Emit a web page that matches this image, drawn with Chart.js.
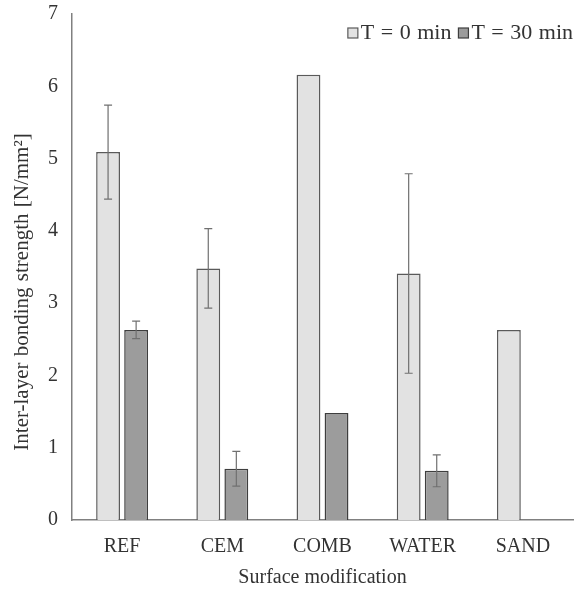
<!DOCTYPE html>
<html>
<head>
<meta charset="utf-8">
<script src="https://cdn.jsdelivr.net/npm/chart.js@4.4.0/dist/chart.umd.min.js"></script>
<style>
  html, body { margin: 0; padding: 0; background: #fff; }
  #wrap { width: 579px; height: 594px; }
</style>
</head>
<body>
<div id="wrap"><canvas id="myChart" width="579" height="594"></canvas></div>
<script>
// data
var categories = ["REF", "CEM", "COMB", "WATER", "SAND"];
var t0Values = [5.09, 3.48, 6.16, 3.41, 2.63];
var t0Errors = [0.65, 0.55, null, 1.38, null];
var t30Values = [2.63, 0.71, 1.48, 0.68, null];
var t30Errors = [0.12, 0.24, null, 0.22, null];
var yTicks = [0, 1, 2, 3, 4, 5, 6, 7];
var yTitle = "Inter-layer bonding strength [N/mm²]";

var serif = "'Liberation Serif', 'Times New Roman', serif";
var textColor = "#333333";

// error bars, drawn from the bar elements and the y scale
var errorBars = {
    id: "errorBars",
    afterDatasetsDraw: function(chart) {
        var ctx = chart.ctx;
        var y = chart.scales.y;
        chart.data.datasets.forEach(function(ds, i) {
            var meta = chart.getDatasetMeta(i);
            meta.data.forEach(function(bar, j) {
                var e = ds.errors[j];
                var v = ds.data[j];
                if (e == null || v == null) return;
                var top = y.getPixelForValue(v + e);
                var bot = y.getPixelForValue(v - e);
                ctx.save();
                ctx.strokeStyle = "#707070";
                ctx.lineWidth = 1.2;
                ctx.beginPath();
                ctx.moveTo(bar.x, top); ctx.lineTo(bar.x, bot);
                ctx.moveTo(bar.x - 4, top); ctx.lineTo(bar.x + 4, top);
                ctx.moveTo(bar.x - 4, bot); ctx.lineTo(bar.x + 4, bot);
                ctx.stroke();
                ctx.restore();
            });
        });
    }
};

// y title sits a bit below the middle of the axis in the original
var sideTitle = {
    id: "sideTitle",
    afterDraw: function(chart) {
        var ctx = chart.ctx;
        var area = chart.chartArea;
        ctx.save();
        ctx.font = "21px " + serif;
        if ("wordSpacing" in ctx) ctx.wordSpacing = "1px";
        ctx.fillStyle = textColor;
        ctx.textAlign = "center";
        ctx.textBaseline = "middle";
        ctx.translate(22, (area.top + area.bottom) / 2 + 25);
        ctx.rotate(-Math.PI / 2);
        ctx.fillText(yTitle, 0, 0);
        ctx.restore();
    }
};

// legend inside the plot, top right
var innerLegend = {
    id: "innerLegend",
    afterDraw: function(chart) {
        var ctx = chart.ctx;
        var area = chart.chartArea;
        ctx.save();
        ctx.font = "22px " + serif;
        if ("wordSpacing" in ctx) ctx.wordSpacing = "1px";
        ctx.textBaseline = "middle";
        var yMid = area.top + 19;
        var box = 10, gap = 3, itemGap = 7;
        var items = chart.data.datasets.map(function(ds) {
            return { text: ds.label, w: ctx.measureText(ds.label).width, fill: ds.backgroundColor, stroke: ds.borderColor };
        });
        var total = 0;
        items.forEach(function(it, k) { total += box + gap + it.w + (k ? itemGap : 0); });
        var x = area.right - total;
        items.forEach(function(it, k) {
            if (k) x += itemGap;
            ctx.fillStyle = it.fill;
            ctx.fillRect(x, yMid - box / 2, box, box);
            ctx.strokeStyle = it.stroke;
            ctx.lineWidth = 1.2;
            ctx.strokeRect(x, yMid - box / 2, box, box);
            x += box + gap;
            ctx.fillStyle = textColor;
            ctx.fillText(it.text, x, yMid);
            x += it.w;
        });
        ctx.restore();
    }
};

var myChartRef = document.getElementById("myChart").getContext("2d");
new Chart(myChartRef, {
    type: "bar",
    data: {
        labels: categories,
        datasets: [
            {
                label: "T = 0 min",
                data: t0Values,
                errors: t0Errors,
                backgroundColor: "#e2e2e2",
                borderColor: "#5a5a5a",
                borderWidth: 1.5
            },
            {
                label: "T = 30 min",
                data: t30Values,
                errors: t30Errors,
                backgroundColor: "#9c9c9c",
                borderColor: "#3e3e3e",
                borderWidth: 1.5
            }
        ]
    },
    options: {
        responsive: false,
        animation: false,
        layout: { padding: { left: 34, right: 6, top: 0, bottom: 4 } },
        datasets: {
            bar: { categoryPercentage: 0.56, barPercentage: 0.85, skipNull: false }
        },
        plugins: {
            legend: { display: false },
            tooltip: { enabled: false }
        },
        scales: {
            x: {
                grid: { display: false, drawTicks: false },
                border: { display: true, color: "#808080", width: 1.5 },
                ticks: { color: textColor, font: { family: serif, size: 20 }, padding: 15 },
                title: {
                    display: true,
                    text: "Surface modification",
                    color: textColor,
                    font: { family: serif, size: 20 },
                    padding: { top: -8, bottom: 0 }
                }
            },
            y: {
                min: 0,
                max: 7,
                afterBuildTicks: function(axis) {
                    axis.ticks = yTicks.map(function(v) { return { value: v }; });
                },
                afterFit: function(axis) {
                    axis.paddingTop = 14;
                },
                grid: { display: false, drawTicks: false },
                border: { display: true, color: "#808080", width: 1.5 },
                ticks: { color: textColor, font: { family: serif, size: 20 }, padding: 14 },
                title: { display: false }
            }
        }
    },
    plugins: [errorBars, sideTitle, innerLegend]
});
</script>
</body>
</html>
